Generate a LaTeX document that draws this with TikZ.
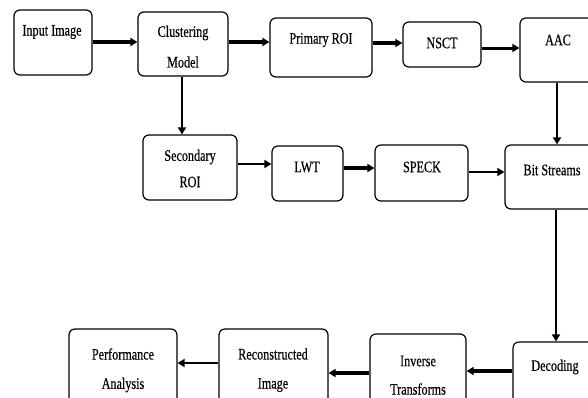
\documentclass[tikz,border=0pt]{standalone}
\usepackage{fontspec}
\setmainfont{Liberation Serif}[FakeStretch=0.76,FakeBold=0.4]
\usetikzlibrary{arrows.meta}
\begin{document}
\begin{tikzpicture}[x=1pt,y=-1pt,
  boxst/.style={draw,line width=1.2pt,rounded corners=6pt},
  txt/.style={inner sep=0pt,font=\fontsize{16}{18}\selectfont,align=center},
  arr/.style={line width=#1,-{Triangle[length=7pt,width=8pt]}},
  arr/.default=2pt]
\useasboundingbox (0,0) rectangle (588,397);
\clip (0,0) rectangle (588,397);
% boxes
\newcommand{\bx}[5]{\node[boxst,minimum width={#4-#2},minimum height={#5-#3},inner sep=0pt] (#1) at ({(#2+#4)/2},{(#3+#5)/2}) {};}
\bx{in}{14}{10}{92}{75}
\bx{clu}{138}{12}{228}{76}
\bx{pri}{270}{18}{372}{77}
\bx{nsct}{403}{22}{481}{67}
\bx{aac}{520}{18}{600}{82}
\bx{sec}{143}{135}{237}{200}
\bx{lwt}{272}{146}{343}{201}
\bx{speck}{375}{145}{468}{201}
\bx{bit}{505}{145}{600}{209}
\bx{perf}{69}{329}{177}{412}
\bx{rec}{219}{329}{328}{412}
\bx{inv}{370}{334}{466}{412}
\bx{dec}{513}{342}{600}{412}
% texts
\node[txt] (tin) at (52,32) {Input Image};
\node[txt] (tclu1) at (183,33) {Clustering};
\node[txt] (tclu2) at (183,62) {Model};
\node[txt] (tpri) at (321,40) {Primary ROI};
\node[txt] (tnsct) at (442,43) {NSCT};
\node[txt] (taac) at (558,40) {AAC};
\node[txt] (tsec1) at (190,157) {Secondary};
\node[txt] (tsec2) at (190,182) {ROI};
\node[txt] (tlwt) at (307,167) {LWT};
\node[txt] (tspeck) at (422,167) {SPECK};
\node[txt] (tbit) at (552,170) {Bit Streams};
\node[txt] (tperf1) at (123,354) {Performance};
\node[txt] (tperf2) at (123,385) {Analysis};
\node[txt] (trec1) at (273,354) {Reconstructed};
\node[txt] (trec2) at (273,385) {Image};
\node[txt] (tinv1) at (418,361) {Inverse};
\node[txt] (tinv2) at (418,389) {Transforms};
\node[txt] (tdec) at (555,367) {Decoding};
% arrows
\draw[arr=3.5pt] (in.east |- 0,42) -- (clu.west |- 0,42);
\draw[arr=3.5pt] (clu.east |- 0,42) -- (pri.west |- 0,42);
\draw[arr=3.5pt] (pri.east |- 0,43) -- (nsct.west |- 0,43);
\draw[arr=3pt] (nsct.east |- 0,48) -- (aac.west |- 0,48);
\draw[arr=2pt] (clu.south -| 182,0) -- (sec.north -| 182,0);
\draw[arr=2pt] (aac.south -| 557,0) -- (bit.north -| 557,0);
\draw[arr=2.5pt] (sec.east |- 0,164) -- (lwt.west |- 0,164);
\draw[arr=3.5pt] (lwt.east |- 0,168) -- (speck.west |- 0,168);
\draw[arr=2.5pt] (speck.east |- 0,172) -- (bit.west |- 0,172);
\draw[arr=2pt] (bit.south -| 556,0) -- (dec.north -| 556,0);
\draw[arr=3.5pt] (dec.west |- 0,371) -- (inv.east |- 0,371);
\draw[arr=3.5pt] (inv.west |- 0,373) -- (rec.east |- 0,373);
\draw[arr=2.5pt] (rec.west |- 0,363) -- (perf.east |- 0,363);
\end{tikzpicture}
\end{document}
